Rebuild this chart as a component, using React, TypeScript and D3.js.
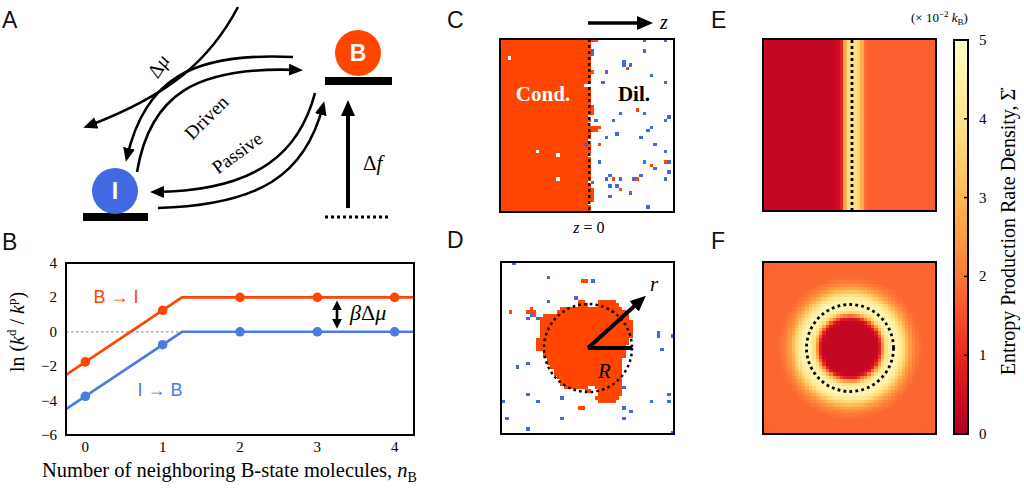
import React from 'react';
import * as d3 from 'd3';

const SERIF = '"Liberation Serif", "Times New Roman", serif';
const SANS = '"Liberation Sans", Arial, sans-serif';
const ORANGE = '#ff4500';
const BLUE = '#4169e1';
const LBLUE = '#4a7be0';

// ---------- Panel B data ----------
const nBValues = [0, 1, 2, 3, 4];
const lnBtoI = [-1.75, 1.25, 2, 2, 2];
const lnItoB = [-3.75, -0.75, 0, 0, 0];
const lineX = [-0.25, 1.25, 4.25];
const lineBtoI = [-2.5, 2, 2];
const lineItoB = [-4.5, 0, 0];
const yTicks = [-6, -4, -2, 0, 2, 4];
const xTicks = [0, 1, 2, 3, 4];

// ---------- Panel C lattice (50x50): [col,row] ----------
const C_COND_LAST_COL = 25;
const C_HOLES = [[2, 5], [10, 32], [16, 33], [16, 40], [24, 13], [25, 13], [25, 22], [25, 24], [25, 29], [25, 33], [25, 41], [25, 47]];
const C_EDGE_B = [[26, 0], [27, 0], [26, 9], [26, 19], [26, 20], [26, 21], [26, 25], [27, 25], [28, 25], [26, 26], [27, 26], [26, 43], [26, 44], [26, 45], [26, 46]];
const C_RED = [[36, 8], [39, 20], [28, 30], [43, 36], [47, 35], [32, 40], [39, 40], [34, 43]];
const C_BLUE = [[41, 0], [47, 0], [26, 3], [26, 4], [41, 3], [35, 6], [35, 7], [37, 7], [30, 9], [43, 10], [29, 12], [47, 12], [34, 21], [41, 21], [48, 22], [47, 23], [27, 23], [32, 23], [43, 25], [42, 26], [30, 28], [33, 27], [40, 28], [44, 30], [24, 30], [47, 32], [28, 35], [41, 35], [48, 35], [44, 37], [48, 38], [40, 39], [31, 39], [30, 40], [34, 40], [38, 40], [47, 40], [26, 41], [31, 42], [33, 42], [37, 44], [31, 45], [42, 48]];

// ---------- Panel D lattice: cluster spans [row, colStart, colEnd] ----------
const D_CLUSTER = [
  [11, 22, 23], [11, 28, 32], [12, 22, 24], [12, 28, 33],
  [13, 8, 8], [13, 17, 34], [14, 7, 9], [14, 16, 35], [15, 9, 9], [15, 12, 36],
  [16, 11, 36], [17, 11, 37], [18, 11, 37], [19, 11, 37], [20, 11, 37], [21, 11, 37],
  [22, 10, 36], [23, 10, 36], [24, 10, 35], [25, 10, 35], [26, 12, 35], [27, 12, 35],
  [28, 13, 34], [29, 13, 34], [30, 14, 34], [31, 15, 34], [32, 15, 34], [33, 16, 34],
  [34, 17, 34], [35, 17, 34], [36, 18, 24], [36, 27, 34], [37, 24, 25], [37, 28, 34],
  [38, 28, 34], [39, 27, 33], [40, 28, 32], [42, 22, 23], [5, 23, 24], [14, 2, 2]
];
const D_BLUE = [[3, 0], [13, 4], [26, 5], [13, 11], [21, 10], [7, 16], [10, 16], [45, 20], [45, 21], [49, 21], [46, 25], [4, 30], [7, 29], [7, 38], [10, 40], [17, 39], [35, 36], [17, 45], [1, 45], [7, 48], [35, 42], [35, 45], [37, 43], [43, 40], [48, 40], [48, 38], [0, 40], [49, 49], [8, 15]];

// ---------- Panel E: column profile of Σ̇ (×10^-2 kB), 50 columns ----------
const E_PROFILE = [
  0.3, 0.3, 0.3, 0.3, 0.3, 0.3, 0.3, 0.3, 0.3, 0.3,
  0.3, 0.3, 0.3, 0.3, 0.3, 0.3, 0.3, 0.3, 0.3, 0.3,
  0.3, 0.45, 0.9, 2.8, 3.7, 3.9, 3.9, 3.6, 2.8, 1.9,
  1.7, 1.7, 1.7, 1.7, 1.7, 1.7, 1.7, 1.7, 1.7, 1.7,
  1.7, 1.7, 1.7, 1.7, 1.7, 1.7, 1.7, 1.7, 1.7, 1.7
];
// ---------- Panel F: radial profile (distance in px → Σ̇) ----------
const F_RADIUS = [0, 27, 30, 33, 36, 40, 44, 48, 52, 56, 60, 65, 72, 200];
const F_VALUE = [0.3, 0.3, 0.9, 2.4, 3.8, 4.5, 4.7, 4.5, 4.0, 3.3, 2.6, 2.1, 1.8, 1.7];
const CBAR_TICKS = [0, 1, 2, 3, 4, 5];

const N = 50;
const cmap = (v: number) => d3.interpolateYlOrRd(0.9 * (1 - Math.max(0, Math.min(5, v)) / 5));

function PanelLabel({ x, y, t }: { x: number; y: number; t: string }) {
  return <text x={x} y={y} fontFamily={SANS} fontSize={23} fill="#111">{t}</text>;
}

function PanelA() {
  return (
    <g>
      <PanelLabel x={2} y={28} t="A" />
      <path d="M238,7 C210,60 170,95 88,126" fill="none" stroke="#000" strokeWidth={2.6} markerEnd="url(#ah)" />
      <path d="M293,57 C190,52 145,80 127,157" fill="none" stroke="#000" strokeWidth={2.6} markerEnd="url(#ah)" />
      <path d="M137,172 C150,95 195,66 298,70" fill="none" stroke="#000" strokeWidth={2.6} markerEnd="url(#ah)" />
      <path d="M315,93 C300,150 260,191 155,192" fill="none" stroke="#000" strokeWidth={2.6} markerEnd="url(#ah)" />
      <path d="M158,208 C260,205 305,175 323,106" fill="none" stroke="#000" strokeWidth={2.6} markerEnd="url(#ah)" />
      <line x1={348} y1={208} x2={348} y2={108} stroke="#000" strokeWidth={4} markerEnd="url(#ahBig)" />
      <line x1={325} y1={217} x2={389} y2={217} stroke="#000" strokeWidth={3} strokeDasharray="3 3" />
      <rect x={83} y={213} width={65} height={8} fill="#000" />
      <circle cx={115} cy={191} r={23} fill={BLUE} />
      <text x={115} y={199} textAnchor="middle" fontFamily={SANS} fontWeight="bold" fontSize={23} fill="#fff">I</text>
      <rect x={325} y={77} width={67} height={8} fill="#000" />
      <circle cx={358} cy={53} r={23} fill={ORANGE} />
      <text x={358} y={61} textAnchor="middle" fontFamily={SANS} fontWeight="bold" fontSize={23} fill="#fff">B</text>
      <text transform="translate(164,70) rotate(-57)" textAnchor="middle" fontFamily={SERIF} fontSize={20}>Δ<tspan fontStyle="italic">μ</tspan></text>
      <text transform="translate(211,122) rotate(-45)" textAnchor="middle" fontFamily={SERIF} fontSize={19}>Driven</text>
      <text transform="translate(241,158) rotate(-36)" textAnchor="middle" fontFamily={SERIF} fontSize={19}>Passive</text>
      <text x={363} y={170} fontFamily={SERIF} fontSize={21}>Δ<tspan fontStyle="italic">f</tspan></text>
    </g>
  );
}

function PanelB() {
  const x = d3.scaleLinear().domain([-0.25, 4.25]).range([66, 414]);
  const y = d3.scaleLinear().domain([-6, 4]).range([435, 263]);
  const pathBI = d3.line<number>().x((_, i) => x(lineX[i])).y(d => y(d))(lineBtoI) || '';
  const pathIB = d3.line<number>().x((_, i) => x(lineX[i])).y(d => y(d))(lineItoB) || '';
  return (
    <g>
      <PanelLabel x={2} y={250} t="B" />
      <line x1={x(-0.25)} x2={x(1.25)} y1={y(0)} y2={y(0)} stroke="#9a9a9a" strokeWidth={1.2} strokeDasharray="2.5 2.5" />
      <path d={pathBI} fill="none" stroke={ORANGE} strokeWidth={2.6} />
      <path d={pathIB} fill="none" stroke={LBLUE} strokeWidth={2.6} />
      {nBValues.map((n, i) => <circle key={'r' + i} cx={x(n)} cy={y(lnBtoI[i])} r={4.8} fill={ORANGE} />)}
      {nBValues.map((n, i) => <circle key={'b' + i} cx={x(n)} cy={y(lnItoB[i])} r={4.8} fill={LBLUE} />)}
      <rect x={66} y={263} width={348} height={172} fill="none" stroke="#000" strokeWidth={2} />
      {yTicks.map(t => (
        <text key={'y' + t} x={57} y={y(t) + 5} textAnchor="end" fontFamily={SERIF} fontSize={15}>{t < 0 ? '−' + Math.abs(t) : t}</text>
      ))}
      {xTicks.map(t => (
        <text key={'x' + t} x={x(t)} y={452} textAnchor="middle" fontFamily={SERIF} fontSize={15}>{t}</text>
      ))}
      <line x1={337} x2={337} y1={y(2) + 9} y2={y(0) - 9} stroke="#000" strokeWidth={2.6} markerStart="url(#ahs)" markerEnd="url(#ahs)" />
      <text x={350} y={320} fontFamily={SERIF} fontSize={22}><tspan fontStyle="italic">β</tspan>Δ<tspan fontStyle="italic">μ</tspan></text>
      <text x={116} y={303} textAnchor="middle" fontFamily={SANS} fontSize={18} fill={ORANGE}>B → I</text>
      <text x={160} y={396} textAnchor="middle" fontFamily={SANS} fontSize={18} fill={LBLUE}>I → B</text>
      <text transform="translate(24,332) rotate(-90)" textAnchor="middle" fontFamily={SERIF} fontSize={20}>
        ln (<tspan fontStyle="italic">k</tspan><tspan fontSize={13} dy={-8}>d</tspan><tspan dy={8}> / </tspan><tspan fontStyle="italic">k</tspan><tspan fontSize={13} dy={-8}>p</tspan><tspan dy={8}>)</tspan>
      </text>
      <text x={42} y={477} fontFamily={SERIF} fontSize={20.5}>
        Number of neighboring B-state molecules, <tspan fontStyle="italic">n</tspan><tspan fontSize={14} dy={5}>B</tspan>
      </text>
    </g>
  );
}

function PanelC() {
  const x0 = 501, x1 = 674, y0 = 39, y1 = 212;
  const sx = d3.scaleLinear().domain([0, N]).range([x0, x1]);
  const sy = d3.scaleLinear().domain([0, N]).range([y0, y1]);
  const grid: string[][] = [];
  for (let r = 0; r < N; r++) {
    grid.push([]);
    for (let c = 0; c < N; c++) grid[r].push(c <= C_COND_LAST_COL ? 'B' : '');
  }
  C_HOLES.forEach(([c, r]) => (grid[r][c] = ''));
  C_EDGE_B.forEach(([c, r]) => (grid[r][c] = 'B'));
  C_RED.forEach(([c, r]) => (grid[r][c] = 'B'));
  C_BLUE.forEach(([c, r]) => (grid[r][c] = 'I'));
  const cells: JSX.Element[] = [];
  for (let r = 0; r < N; r++) for (let c = 0; c < N; c++) {
    const s = grid[r][c];
    if (!s) continue;
    const xa = Math.round(sx(c)), xb = Math.round(sx(c + 1));
    const ya = Math.round(sy(r)), yb = Math.round(sy(r + 1));
    cells.push(<rect key={r * N + c} x={xa} y={ya} width={xb - xa} height={yb - ya} fill={s === 'B' ? ORANGE : BLUE} />);
  }
  const zx = sx(C_COND_LAST_COL + 0.5);
  return (
    <g>
      <PanelLabel x={447} y={28} t="C" />
      <g shapeRendering="crispEdges">{cells}</g>
      <line x1={zx} x2={zx} y1={y0} y2={y1} stroke="#000" strokeWidth={2.5} strokeDasharray="3 3" />
      <rect x={500} y={39} width={174} height={173} fill="none" stroke="#000" strokeWidth={2} />
      <text x={543} y={101} textAnchor="middle" fontFamily={SERIF} fontWeight="bold" fontSize={21} fill="#fff">Cond.</text>
      <text x={634} y={101} textAnchor="middle" fontFamily={SERIF} fontWeight="bold" fontSize={21} fill="#000">Dil.</text>
      <line x1={588} x2={645} y1={23} y2={23} stroke="#000" strokeWidth={3.5} markerEnd="url(#ahBig)" />
      <text x={660} y={29} fontFamily={SERIF} fontStyle="italic" fontSize={20}>z</text>
      <text x={589} y={233} textAnchor="middle" fontFamily={SERIF} fontSize={16}><tspan fontStyle="italic">z</tspan> = 0</text>
    </g>
  );
}

function PanelD() {
  const x0 = 502, x1 = 674, y0 = 262, y1 = 434;
  const sx = d3.scaleLinear().domain([0, N]).range([x0, x1]);
  const sy = d3.scaleLinear().domain([0, N]).range([y0, y1]);
  const R = (v: number) => Math.round(v);
  const cells: JSX.Element[] = [];
  D_CLUSTER.forEach(([r, a, b], k) => {
    cells.push(<rect key={'o' + k} x={R(sx(a))} y={R(sy(r))} width={R(sx(b + 1)) - R(sx(a))} height={R(sy(r + 1)) - R(sy(r))} fill={ORANGE} />);
  });
  D_BLUE.forEach(([c, r], k) => {
    cells.push(<rect key={'b' + k} x={R(sx(c))} y={R(sy(r))} width={R(sx(c + 1)) - R(sx(c))} height={R(sy(r + 1)) - R(sy(r))} fill={BLUE} />);
  });
  const cx = sx(25), cy = sy(25);
  return (
    <g>
      <PanelLabel x={447} y={248} t="D" />
      <g shapeRendering="crispEdges">{cells}</g>
      <circle cx={cx} cy={cy} r={44} fill="none" stroke="#000" strokeWidth={2.5} strokeDasharray="2.6 3.2" />
      <line x1={cx} y1={cy} x2={cx + 44} y2={cy} stroke="#000" strokeWidth={4} />
      <line x1={cx} y1={cy} x2={cx + 52} y2={cy - 47} stroke="#000" strokeWidth={4} markerEnd="url(#ahBig)" />
      <rect x={501} y={262} width={173} height={172} fill="none" stroke="#000" strokeWidth={2} />
      <text x={598} y={378} fontFamily={SERIF} fontStyle="italic" fontSize={21}>R</text>
      <text x={650} y={291} fontFamily={SERIF} fontStyle="italic" fontSize={21}>r</text>
    </g>
  );
}

function Heat({ x0, x1, y0, y1, val }: { x0: number; x1: number; y0: number; y1: number; val: (c: number, r: number, sx: any, sy: any) => number }) {
  const sx = d3.scaleLinear().domain([0, N]).range([x0, x1]);
  const sy = d3.scaleLinear().domain([0, N]).range([y0, y1]);
  const out: JSX.Element[] = [];
  for (let r = 0; r < N; r++) for (let c = 0; c < N; c++) {
    const xa = Math.round(sx(c)), xb = Math.round(sx(c + 1));
    const ya = Math.round(sy(r)), yb = Math.round(sy(r + 1));
    out.push(<rect key={r * N + c} x={xa} y={ya} width={xb - xa} height={yb - ya} fill={cmap(val(c, r, sx, sy))} />);
  }
  return <g shapeRendering="crispEdges">{out}</g>;
}

function PanelEF() {
  const fInterp = d3.scaleLinear().domain(F_RADIUS).range(F_VALUE).clamp(true);
  const Fcx = 850, Fcy = 348;
  const cb = d3.scaleLinear().domain([0, 5]).range([434, 40]);
  const stops = d3.range(0, 1.0001, 0.05);
  return (
    <g>
      <PanelLabel x={711} y={28} t="E" />
      <Heat x0={764} x1={936} y0={40} y1={211} val={(c) => E_PROFILE[c]} />
      <line x1={852} x2={852} y1={40} y2={211} stroke="#000" strokeWidth={2.8} strokeDasharray="3 3" />
      <rect x={763} y={39} width={173} height={172} fill="none" stroke="#000" strokeWidth={2} />

      <PanelLabel x={711} y={249} t="F" />
      <Heat x0={764} x1={936} y0={263} y1={434} val={(c, r, sx, sy) => {
        const d = Math.hypot(sx(c + 0.5) - Fcx, sy(r + 0.5) - Fcy);
        return fInterp(d);
      }} />
      <circle cx={Fcx} cy={Fcy} r={43.5} fill="none" stroke="#000" strokeWidth={2.8} strokeDasharray="2.8 3.2" />
      <rect x={763} y={262} width={173} height={172} fill="none" stroke="#000" strokeWidth={2} />

      <defs>
        <linearGradient id="cbg" x1="0" y1="1" x2="0" y2="0">
          {stops.map(s => <stop key={s} offset={s} stopColor={cmap(s * 5)} />)}
        </linearGradient>
      </defs>
      <rect x={954} y={cb(5)} width={14} height={cb(0) - cb(5)} fill="url(#cbg)" stroke="#000" strokeWidth={2} />
      {CBAR_TICKS.filter(t => t > 0 && t < 5).map(t => (
        <line key={'ct' + t} x1={964} x2={968} y1={cb(t)} y2={cb(t)} stroke="#000" strokeWidth={1.5} />
      ))}
      {CBAR_TICKS.map(t => (
        <text key={'cl' + t} x={979} y={cb(t) + 5} fontFamily={SERIF} fontSize={15}>{t}</text>
      ))}
      <text x={911} y={22} fontFamily={SERIF} fontSize={13}>(× 10<tspan fontSize={9} dy={-5}>−2</tspan><tspan dy={5}> </tspan><tspan fontStyle="italic">k</tspan><tspan fontSize={9} dy={3}>B</tspan><tspan dy={-3}>)</tspan></text>
      <text transform="translate(1015,232) rotate(-90)" textAnchor="middle" fontFamily={SERIF} fontSize={20}>Entropy Production Rate Density, Σ̇</text>
    </g>
  );
}

export default function App() {
  return (
    <svg width={1024} height={491} viewBox="0 0 1024 491" style={{ position: 'absolute', left: 0, top: 0, background: '#fff' }}>
      <defs>
        <marker id="ah" viewBox="0 0 14 12" refX={9} refY={6} markerWidth={14} markerHeight={12} markerUnits="userSpaceOnUse" orient="auto">
          <path d="M0,0 L14,6 L0,12 z" fill="#000" />
        </marker>
        <marker id="ahBig" viewBox="0 0 16 14" refX={8} refY={7} markerWidth={16} markerHeight={14} markerUnits="userSpaceOnUse" orient="auto">
          <path d="M0,0 L16,7 L0,14 z" fill="#000" />
        </marker>
        <marker id="ahs" viewBox="0 0 10 10" refX={4} refY={5} markerWidth={10} markerHeight={10} markerUnits="userSpaceOnUse" orient="auto-start-reverse">
          <path d="M0,0 L10,5 L0,10 z" fill="#000" />
        </marker>
      </defs>
      <rect width={1024} height={491} fill="#fff" />
      <PanelA />
      <PanelB />
      <PanelC />
      <PanelD />
      <PanelEF />
    </svg>
  );
}
